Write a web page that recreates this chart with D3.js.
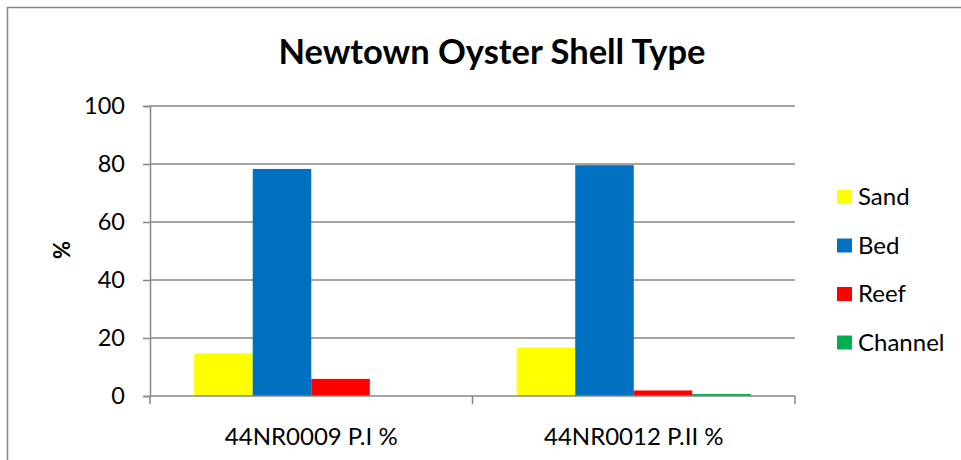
<!DOCTYPE html>
<html>
<head>
<meta charset="utf-8">
<script src="https://cdn.jsdelivr.net/npm/d3@7"></script>
<style>
  body { margin: 0; background: #fff; }
  text { font-family: Lato, "Open Sans", sans-serif; fill: #000; }
</style>
</head>
<body>
<div id="chart"></div>
<script>
// Newtown Oyster Shell Type - grouped bars
const categories = ['44NR0009 P.I %', '44NR0012 P.II %'];
const seriesNames = ['Sand', 'Bed', 'Reef', 'Channel'];
const seriesColors = ['#FFFF00', '#0070C0', '#FF0000', '#00B050'];
const sand = [14.7, 16.7];
const bed = [78.3, 79.6];
const reef = [5.9, 1.9];
const channel = [0, 0.7];
const yTicks = [0, 20, 40, 60, 80, 100];

const seriesValues = [sand, bed, reef, channel];
const width = 961;
const height = 460;
const margin = {top: 106, right: 166, bottom: 64, left: 150};
const innerW = width - margin.left - margin.right;
const innerH = height - margin.top - margin.bottom;

const svg = d3.select('#chart').append('svg')
  .attr('width', width)
  .attr('height', height);

// chart frame
svg.append('rect')
  .attr('x', 7.5)
  .attr('y', 7.5)
  .attr('width', 980)
  .attr('height', 480)
  .attr('fill', 'none')
  .attr('stroke', '#868686')
  .attr('stroke-width', 1.5);

svg.append('text')
  .attr('x', 492)
  .attr('y', 64)
  .attr('text-anchor', 'middle')
  .attr('font-size', '34.5px')
  .attr('font-weight', 'bold')
  .text('Newtown Oyster Shell Type');

const g = svg.append('g')
  .attr('transform', `translate(${margin.left},${margin.top})`);

const x0 = d3.scaleBand()
  .domain(categories)
  .range([0, innerW])
  .paddingInner(0.274)
  .paddingOuter(0.137);

const x1 = d3.scaleBand()
  .domain(seriesNames)
  .range([0, x0.bandwidth()]);

const y = d3.scaleLinear()
  .domain([0, 100])
  .range([innerH, 0]);

// gridlines
g.append('g')
  .selectAll('line')
  .data(yTicks.filter(d => d > 0))
  .enter().append('line')
  .attr('x1', 0)
  .attr('x2', innerW)
  .attr('y1', d => y(d))
  .attr('y2', d => y(d))
  .attr('stroke', '#868686')
  .attr('stroke-width', 1.5);

// y axis
const yAxis = g.append('g')
  .call(d3.axisLeft(y).tickValues(yTicks).tickSize(7).tickPadding(18));
yAxis.select('.domain').attr('stroke', '#868686').attr('stroke-width', 1.5);
yAxis.selectAll('.tick line').attr('stroke', '#868686').attr('stroke-width', 1.5);
yAxis.selectAll('text')
  .attr('font-size', '23.5px')
  .attr('font-family', 'Lato, sans-serif');

// bars
seriesNames.forEach((name, si) => {
  g.append('g')
    .selectAll('rect')
    .data(categories.map((c, ci) => ({c, v: seriesValues[si][ci]})))
    .enter().append('rect')
    .attr('x', d => x0(d.c) + x1(name))
    .attr('y', d => y(d.v))
    .attr('width', x1.bandwidth())
    .attr('height', d => innerH - y(d.v))
    .attr('fill', seriesColors[si]);
});

// x axis with boundary ticks
const xb = d3.scaleLinear().domain([0, categories.length]).range([0, innerW]);
const xAxis = g.append('g')
  .attr('transform', `translate(0,${innerH})`);
xAxis.append('line')
  .attr('x1', 0).attr('x2', innerW)
  .attr('stroke', '#868686').attr('stroke-width', 1.5);
xAxis.selectAll('.bt')
  .data(d3.range(categories.length + 1))
  .enter().append('line')
  .attr('x1', d => xb(d)).attr('x2', d => xb(d))
  .attr('y1', 0).attr('y2', 8)
  .attr('stroke', '#868686').attr('stroke-width', 1.5);
xAxis.selectAll('.cl')
  .data(categories)
  .enter().append('text')
  .attr('x', d => x0(d) + x0.bandwidth() / 2)
  .attr('y', 49)
  .attr('text-anchor', 'middle')
  .attr('font-size', '24px')
  .text(d => d);

// y axis title
svg.append('text')
  .attr('transform', 'translate(70,250) rotate(-90)')
  .attr('text-anchor', 'middle')
  .attr('font-size', '22px')
  .attr('font-weight', 'bold')
  .text('%');

// legend
const legend = svg.append('g').attr('transform', 'translate(837,197)');
seriesNames.forEach((name, i) => {
  const row = legend.append('g').attr('transform', `translate(0,${i * 48.5})`);
  row.append('rect')
    .attr('x', 0).attr('y', -7)
    .attr('width', 15).attr('height', 14)
    .attr('fill', seriesColors[i]);
  row.append('text')
    .attr('x', 21)
    .attr('y', 8)
    .attr('font-size', '24px')
    .text(name);
});
</script>
</body>
</html>
